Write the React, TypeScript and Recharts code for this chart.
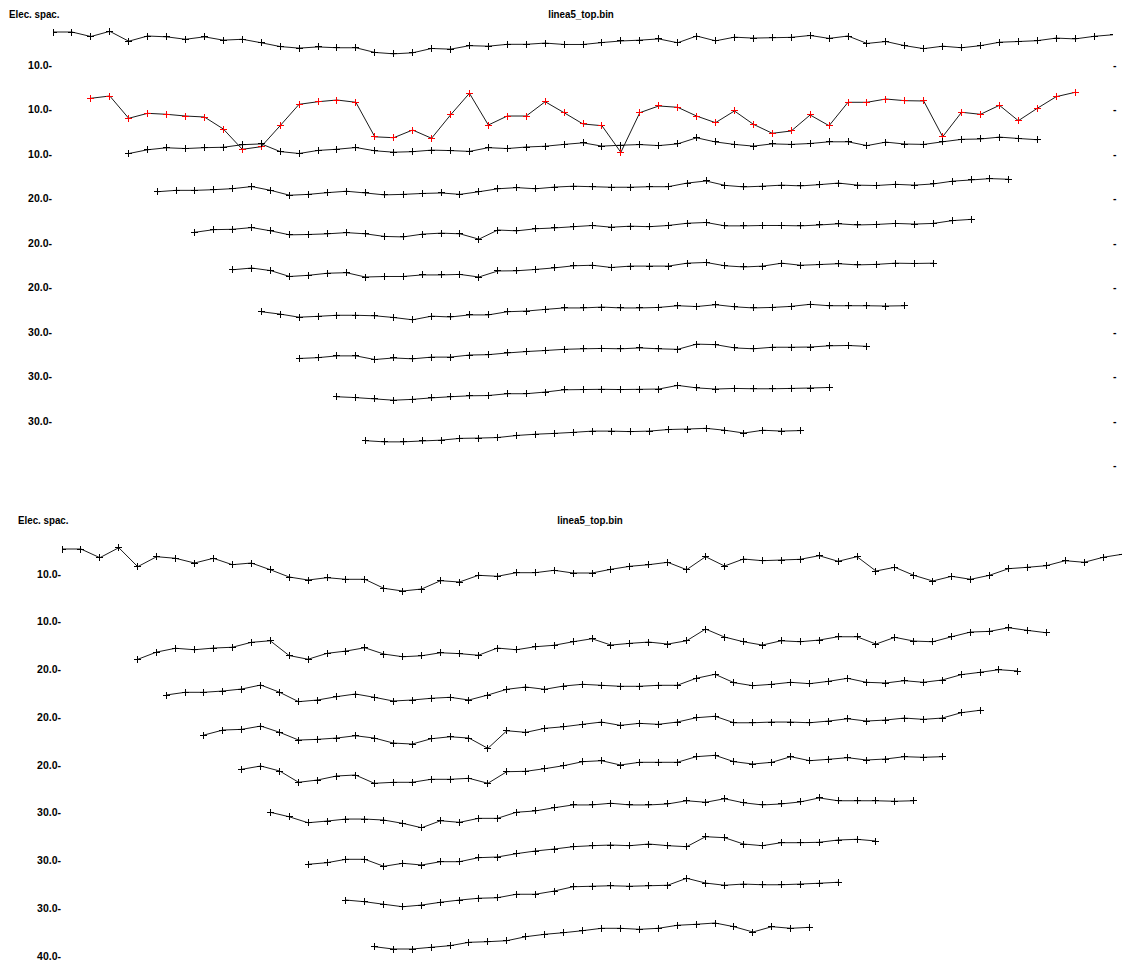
import React from 'react'
import { LineChart, Line, XAxis, YAxis } from 'recharts'

// Apparent resistivity profiles, one per data level. Values are display
// offsets (upward positive); each level starts at the
// electrode index given in levelStart and steps by one electrode.
const levelA = [25, 25, 16.3, 26.3, 7.3, 17.3, 15.7, 11, 15.7, 9.3, 11, 4.3, -3, -6, -3.7, -5.3, -5.3, -14.3, -17, -15, -6.7, -8, -1.3, -2.3, 1.3, 1.3, 3.7, 1, 1, 4.7, 7.7, 9.3, 11.7, 4.3, 17.3, 8, 15, 13.3, 14, 14.7, 18.3, 12.7, 17.3, 3, 6.7, -1.3, -7, -2.3, -5.3, -1.3, 5.3, 6.7, 8.3, 13.3, 11.7, 16.7, 19.7]
// level flagged as bad data (only in the upper view)
const levelBad = [-16.9, -12.5, -55.4, -45.8, -47.7, -51, -52.9, -76, -115, -110, -69.6, -28.5, -23.5, -20.2, -24.6, -91, -92.7, -77.9, -93.8, -49, -7.3, -68.3, -51, -51, -23.5, -44.6, -66.3, -69.6, -120.8, -44.6, -31.7, -34.2, -51, -63.8, -41.3, -66.9, -84.2, -79.8, -49, -69.6, -24.6, -24.6, -18.3, -21.5, -22.1, -90.8, -43.8, -47.7, -30.4, -60, -36.2, -13.8, -5.4]
const levelB = [-37.6, -30.3, -26.5, -28, -26.3, -25.5, -20.6, -19, -33.8, -37.5, -31.6, -29.3, -26, -32.3, -35, -34, -31, -31.9, -33.5, -26.3, -28, -25, -23.5, -20, -17, -23.3, -21.6, -20.3, -22.3, -19, -7.3, -15.3, -20, -23.3, -19, -20, -18.3, -15, -15, -22.3, -15.6, -19.3, -20, -15, -10.3, -9.6, -6, -8.6, -11]
const levelC = [-25.5, -22.8, -22.8, -21.5, -19.5, -15.5, -22.8, -32.2, -30.5, -27.2, -24.5, -27.8, -31.5, -30.5, -28.8, -27.8, -30.5, -25.5, -19.8, -17.5, -19.8, -16.5, -14.8, -15.8, -16.8, -16.8, -15.8, -15.8, -8.8, -4.8, -13.2, -16.2, -14.8, -12.8, -14.2, -11.8, -8.8, -12.8, -13.5, -11.2, -12.8, -10.5, -5.2, -2.8, -0.2, -1.5]
const levelD = [-17.8, -12.8, -12.1, -8.8, -15.1, -22.8, -22.1, -20.8, -18.5, -20.8, -25.8, -26.8, -21.5, -19.5, -20.8, -31.1, -13.5, -15.1, -11.1, -9.5, -7.1, -4.8, -8.1, -6.1, -7.1, -4.8, -0.5, 1, -5.5, -5.5, -4.8, -4.8, -5.5, -3.8, -1.5, -3.8, -2.8, -0.8, -2.1, -0.8, 4.5, 7]
const levelE = [-4.3, -1, -6, -17.3, -15, -11, -10, -18.3, -17.3, -17.3, -14.3, -14.3, -13.3, -18.3, -6.7, -6.3, -3.7, -0.7, 3.3, 4.3, 0, 2.7, 2.7, 2.7, 8.3, 9.7, 3.3, 1, 2.7, 8.3, 4.3, 5.7, 7.3, 5, 6, 8.3, 7.7, 8.3]
const levelF = [0.5, -4, -10, -8.3, -6.3, -6.3, -7.3, -10.6, -15, -8, -9.6, -5.6, -5.6, 0.5, 1.8, 5, 7.8, 7.8, 9.5, 7.8, 7.8, 8.8, 12, 10.5, 14, 10, 7.8, 8.8, 10.8, 14.8, 12, 12, 12, 11.5, 12]
const levelG = [-3.8, -2.2, 1.2, 1.2, -5.8, -2.8, -4.5, -1.2, -1.2, 2.8, 3.5, 6.8, 9.5, 11.5, 13.8, 14.8, 15.5, 14.8, 16.5, 14.8, 13.8, 23.8, 22.8, 16.5, 14.8, 17.8, 17.8, 18.2, 20.5, 21.2, 19.5]
const levelH = [8.2, 6.5, 4, 1.5, 3.2, 6, 8.2, 10, 10.5, 14, 14, 17.2, 21.5, 22, 22.5, 22, 22.5, 23, 30, 25.2, 23, 24.2, 23.5, 23.5, 24.2, 25, 26]
const levelI = [9.3, 7, 7, 8.7, 10.3, 13.7, 14.3, 15.3, 19.3, 21.7, 23.3, 25.3, 27.7, 27.7, 26.7, 27.7, 30.7, 31.7, 33, 29.3, 24, 29.3, 27.7, 28.7]

const levelStart = { A: 0, bad: 2, B: 4, C: 5.5, D: 7.5, E: 9.5, F: 11, G: 13, H: 15, I: 16.5 }
const electrodeCount = 56

const topLabels = ['10.0', '10.0', '10.0', '20.0', '20.0', '20.0', '30.0', '30.0', '30.0']
const bottomLabels = ['10.0', '10.0', '20.0', '20.0', '20.0', '30.0', '30.0', '30.0', '40.0']
const title = 'linea5_top.bin'
const axisTitle = 'Elec. spac.'

type Level = { values: number[]; start: number; bad?: boolean }

const topLevels: Level[] = [
  { values: levelA, start: levelStart.A },
  { values: levelBad, start: levelStart.bad, bad: true },
  { values: levelB, start: levelStart.B },
  { values: levelC, start: levelStart.C },
  { values: levelD, start: levelStart.D },
  { values: levelE, start: levelStart.E },
  { values: levelF, start: levelStart.F },
  { values: levelG, start: levelStart.G },
  { values: levelH, start: levelStart.H },
  { values: levelI, start: levelStart.I },
]
const bottomLevels = topLevels.filter(l => !l.bad)

const FONT = '"Liberation Sans", Arial, sans-serif'
const textStyle: React.CSSProperties = { fontFamily: FONT, fontSize: 10.5, fontWeight: 'bold', fill: '#000' }
const headerStyle: React.CSSProperties = {
  position: 'absolute',
  fontFamily: FONT,
  fontSize: 10.5,
  fontWeight: 'bold',
  lineHeight: '14px',
  whiteSpace: 'nowrap',
}

const plusDot = (color: string) => (props: any) => {
  const { cx, cy, index } = props
  if (cx == null || cy == null) return <g key={index} />
  return (
    <path
      key={index}
      d={`M${cx - 3.5},${cy}H${cx + 3.5}M${cx},${cy - 3.5}V${cy + 3.5}`}
      stroke={color}
      strokeWidth={1}
      fill="none"
      shapeRendering="crispEdges"
    />
  )
}

interface PanelProps {
  shiftX: number
  top: number
  height: number
  headerY: number
  row1: number
  rowStep: number
  lift: number
  gain: number
  levels: Level[]
  labels: string[]
  rightTicks: boolean
}

const CHART_W = 1122
const LEFT_W = 53
const RIGHT_W = 9

function Panel({ shiftX, top, height, headerY, row1, rowStep, lift, gain, levels, labels, rightTicks }: PanelProps) {
  const rows = levels.map((_, i) => row1 + i * rowStep)

  // left label plus the small tick mark on the right edge
  const RowTick = (p: any) => {
    const i = rows.indexOf(p.payload.value)
    return (
      <g>
        {labels[i] && (
          <text x={p.x - 1} y={p.y} dy={3.5} textAnchor="end" style={textStyle}>
            {labels[i]}-
          </text>
        )}
        {rightTicks && (
          <text x={CHART_W - RIGHT_W} y={p.y} dy={3.5} textAnchor="start" style={textStyle}>-</text>
        )}
      </g>
    )
  }

  return (
    <div style={{ position: 'absolute', left: shiftX, top, width: CHART_W, height }}>
      <div style={{ ...headerStyle, left: 9, top: headerY - 7, transform: 'scaleX(0.93)', transformOrigin: 'left center' }}>
        {axisTitle}
      </div>
      <div style={{ ...headerStyle, left: 0, width: 1162, top: headerY - 7, textAlign: 'center', transform: 'scaleX(0.93)', transformOrigin: '581px center' }}>
        {title}
      </div>
      <LineChart width={CHART_W} height={height} margin={{ top: 0, right: RIGHT_W, bottom: 0, left: 0 }}>
        <XAxis type="number" dataKey="k" domain={[0, electrodeCount]} hide allowDataOverflow />
        <YAxis
          yAxisId="l"
          type="number"
          domain={[0, height]}
          reversed
          width={LEFT_W}
          ticks={rows}
          interval={0}
          tick={<RowTick />}
          tickLine={false}
          axisLine={false}
          tickSize={0}
          tickMargin={0}
          allowDataOverflow
        />
        {levels.map((lvl, li) => {
          const data = lvl.values.map((v, i) => ({ k: lvl.start + i, y: rows[li] - lift - gain * v }))
          return (
            <Line
              key={li}
              yAxisId="l"
              data={data}
              dataKey="y"
              type="linear"
              stroke="#1a1a1a"
              strokeWidth={1}
              dot={plusDot(lvl.bad ? '#ff0000' : '#000000')}
              activeDot={false}
              isAnimationActive={false}
            />
          )
        })}
      </LineChart>
    </div>
  )
}

export default function App() {
  return (
    <div style={{ position: 'absolute', left: 0, top: 0, width: 1122, height: 961, overflow: 'hidden', background: '#fff' }}>
      <Panel shiftX={0} top={0} height={490} headerY={14} row1={65} rowStep={44.5} lift={20} gain={0.52} levels={topLevels} labels={topLabels} rightTicks />
      <Panel shiftX={9} top={500} height={461} headerY={20} row1={74} rowStep={47.75} lift={0} gain={1} levels={bottomLevels} labels={bottomLabels} rightTicks={false} />
    </div>
  )
}
